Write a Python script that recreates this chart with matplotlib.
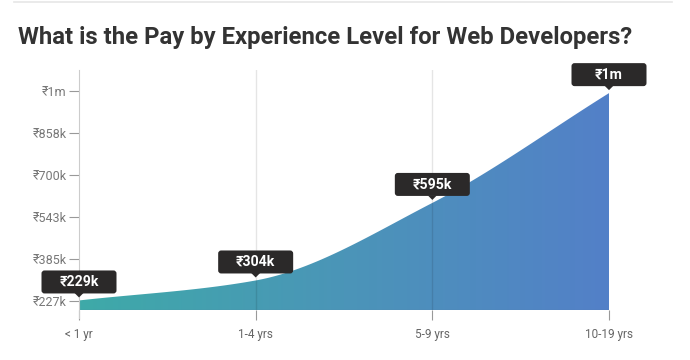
import numpy as np
import matplotlib.pyplot as plt
from matplotlib.patches import FancyBboxPatch, Polygon
from matplotlib.colors import LinearSegmentedColormap
from matplotlib.lines import Line2D


# data
levels      = ["< 1 yr", "1-4 yrs", "5-9 yrs", "10-19 yrs"]
pay_k       = [229, 304, 595, 1007]
pay_labels  = ["₹229k", "₹304k", "₹595k", "₹1m"]
ytick_vals  = [227, 385, 543, 700, 858, 1015]
ytick_text  = ["₹227k", "₹385k", "₹543k", "₹700k", "₹858k", "₹1m"]

TITLE = "What is the Pay by Experience Level for Web Developers?"
FONTS = ["Roboto", "DejaVu Sans"]

plt.rcParams["font.family"] = FONTS


def monotone_curve(x, y, n=60):
    # monotone cubic (Fritsch-Carlson) used for drawing the smooth area edge
    x = np.asarray(x, float)
    y = np.asarray(y, float)
    h = np.diff(x)
    d = np.diff(y) / h
    m = np.zeros_like(y)
    m[0], m[-1] = d[0], d[-1]
    for i in range(1, len(y) - 1):
        if d[i - 1] * d[i] <= 0:
            m[i] = 0
        else:
            w1 = 2 * h[i] + h[i - 1]
            w2 = h[i] + 2 * h[i - 1]
            m[i] = (w1 + w2) / (w1 / d[i - 1] + w2 / d[i])
    xs, ys = [], []
    for i in range(len(x) - 1):
        t = np.linspace(0, 1, n)
        h00 = 2 * t**3 - 3 * t**2 + 1
        h10 = t**3 - 2 * t**2 + t
        h01 = -2 * t**3 + 3 * t**2
        h11 = t**3 - t**2
        xs.append(x[i] + t * h[i])
        ys.append(h00 * y[i] + h10 * h[i] * m[i] + h01 * y[i + 1] + h11 * h[i] * m[i + 1])
    return np.concatenate(xs), np.concatenate(ys)


fig = plt.figure(figsize=(6.9, 3.6), dpi=100)
W, H = 690, 360

# top rule + title
fig.add_artist(Line2D([14 / W, 672 / W], [1 - 2 / H, 1 - 2 / H], color="#e6e6e6", lw=1.2))
fig.text(18 / W, 1 - 44 / H, TITLE, fontsize=17.2, fontweight="bold",
         color="#333333", ha="left", va="baseline")

ax = fig.add_axes([79 / W, 50 / H, 530 / W, 240 / H])
xpos = np.arange(len(levels))
ymin, ymax = 193.2, 1093.8

# gradient filled area
cx, cy = monotone_curve(xpos, pay_k)
verts = np.column_stack([np.r_[cx, cx[-1], cx[0]], np.r_[cy, ymin, ymin]])
poly = Polygon(verts, closed=True, fc="none", ec="none")
ax.add_patch(poly)
cmap = LinearSegmentedColormap.from_list("area", ["#3eaaa8", "#4b95b8", "#5380c8"])
grad = np.linspace(0, 1, 256).reshape(1, -1)
img = ax.imshow(grad, cmap=cmap, aspect="auto", extent=[0, 3, ymin, ymax],
                origin="lower", zorder=1, interpolation="bicubic")
img.set_clip_path(poly)
ax.set_xlim(0, len(levels) - 1)
ax.set_ylim(ymin, ymax)

# vertical grid lines
for xv in xpos[1:-1]:
    ax.axvline(xv, color="black", alpha=0.1, lw=1, zorder=2)

for s in ["top", "right", "bottom"]:
    ax.spines[s].set_visible(False)
ax.spines["left"].set_color("#cccccc")
ax.spines["left"].set_bounds(ymin - 30, ymax)
ax.spines["left"].set_zorder(3)
ax.spines["left"].set_clip_on(False)
ax.axhline(ymin, color="#5a7fa0", alpha=0.4, lw=1, zorder=3)

ax.set_yticks(ytick_vals)
ax.set_yticklabels(ytick_text)
ax.tick_params(axis="y", length=7, width=0.8, color="#999999", labelcolor="#777777",
               labelsize=9, pad=2)
ax.set_xticks(xpos)
ax.set_xticklabels(levels)
ax.tick_params(axis="x", length=7, width=0.8, color="#999999", labelcolor="#666666",
               labelsize=8.5, pad=6)

# value callouts, drawn in pixel space
fig.canvas.draw()
for xv, yv, lab in zip(xpos, pay_k, pay_labels):
    px, py = ax.transData.transform((xv, yv))
    bw, bh, gap = 75, 23, 7
    box = FancyBboxPatch((px - bw / 2 + 3, py + gap + 3), bw - 6, bh - 6,
                         boxstyle="round,pad=3", fc="#2b2929", ec="none",
                         transform=None, zorder=10)
    fig.add_artist(box)
    tri = Polygon([[px - 4.5, py + gap + 0.5], [px + 4.5, py + gap + 0.5], [px, py + 3]],
                  closed=True, fc="#2b2929", ec="none", transform=None, zorder=10)
    fig.add_artist(tri)
    fig.text(px / W, (py + gap + bh / 2) / H, lab, color="white", fontsize=10.2,
             fontweight="bold", ha="center", va="center", zorder=11)

fig.savefig("out.png", dpi=100)
